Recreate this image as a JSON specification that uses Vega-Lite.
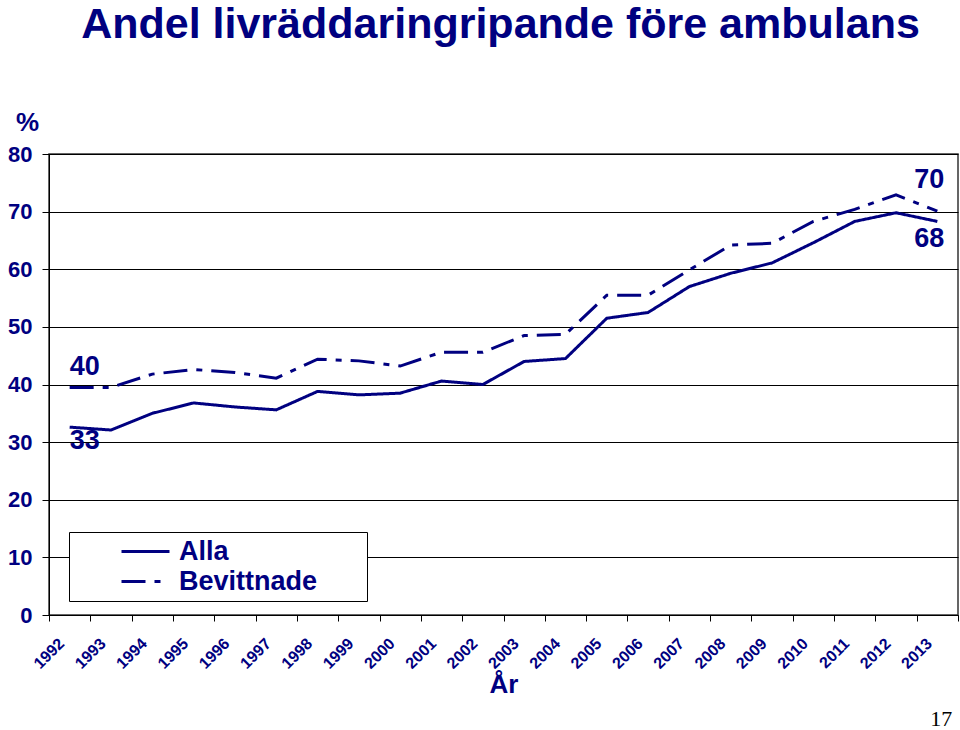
{
  "$schema": "https://vega.github.io/schema/vega-lite/v6.json",
  "width": 909,
  "height": 461,
  "autosize": {"type": "none"},
  "padding": {"left": 49, "top": 154, "right": 2, "bottom": 115},
  "background": "white",
  "title": {
    "text": "Andel livräddaringripande före ambulans",
    "font": "Liberation Sans",
    "fontSize": 43,
    "fontWeight": "bold",
    "color": "#000080",
    "anchor": "middle",
    "dx": -3,
    "offset": 62
  },
  "config": {
    "view": {"stroke": "#333333", "strokeWidth": 1.5},
    "axis": {
      "domainColor": "#000000",
      "tickColor": "#000000",
      "gridColor": "#000000",
      "gridWidth": 1,
      "labelColor": "#000080",
      "labelFont": "Liberation Sans",
      "labelFontWeight": "bold",
      "titleFont": "Liberation Sans",
      "titleFontWeight": "bold",
      "titleColor": "#000080"
    }
  },
  "data": {
    "values": [
      {"year": "1992", "series": "Alla", "value": 32.6, "label": "33"},
      {"year": "1993", "series": "Alla", "value": 32.1},
      {"year": "1994", "series": "Alla", "value": 35.0},
      {"year": "1995", "series": "Alla", "value": 36.8},
      {"year": "1996", "series": "Alla", "value": 36.1},
      {"year": "1997", "series": "Alla", "value": 35.6},
      {"year": "1998", "series": "Alla", "value": 38.8},
      {"year": "1999", "series": "Alla", "value": 38.2},
      {"year": "2000", "series": "Alla", "value": 38.5},
      {"year": "2001", "series": "Alla", "value": 40.6},
      {"year": "2002", "series": "Alla", "value": 40.0},
      {"year": "2003", "series": "Alla", "value": 44.0},
      {"year": "2004", "series": "Alla", "value": 44.5},
      {"year": "2005", "series": "Alla", "value": 51.5},
      {"year": "2006", "series": "Alla", "value": 52.5},
      {"year": "2007", "series": "Alla", "value": 57.0},
      {"year": "2008", "series": "Alla", "value": 59.3},
      {"year": "2009", "series": "Alla", "value": 61.1},
      {"year": "2010", "series": "Alla", "value": 64.6},
      {"year": "2011", "series": "Alla", "value": 68.3},
      {"year": "2012", "series": "Alla", "value": 69.8},
      {"year": "2013", "series": "Alla", "value": 68.3, "label": "68"},
      {"year": "1992", "series": "Bevittnade", "value": 39.5, "label": "40"},
      {"year": "1993", "series": "Bevittnade", "value": 39.5},
      {"year": "1994", "series": "Bevittnade", "value": 41.8},
      {"year": "1995", "series": "Bevittnade", "value": 42.6},
      {"year": "1996", "series": "Bevittnade", "value": 42.1},
      {"year": "1997", "series": "Bevittnade", "value": 41.1},
      {"year": "1998", "series": "Bevittnade", "value": 44.4},
      {"year": "1999", "series": "Bevittnade", "value": 44.1},
      {"year": "2000", "series": "Bevittnade", "value": 43.2},
      {"year": "2001", "series": "Bevittnade", "value": 45.6},
      {"year": "2002", "series": "Bevittnade", "value": 45.6},
      {"year": "2003", "series": "Bevittnade", "value": 48.5},
      {"year": "2004", "series": "Bevittnade", "value": 48.7},
      {"year": "2005", "series": "Bevittnade", "value": 55.5},
      {"year": "2006", "series": "Bevittnade", "value": 55.5},
      {"year": "2007", "series": "Bevittnade", "value": 59.9},
      {"year": "2008", "series": "Bevittnade", "value": 64.2},
      {"year": "2009", "series": "Bevittnade", "value": 64.5},
      {"year": "2010", "series": "Bevittnade", "value": 68.3},
      {"year": "2011", "series": "Bevittnade", "value": 70.4},
      {"year": "2012", "series": "Bevittnade", "value": 72.9},
      {"year": "2013", "series": "Bevittnade", "value": 70.1, "label": "70"}
    ]
  },
  "encoding": {
    "x": {
      "field": "year",
      "type": "ordinal",
      "scale": {"type": "band", "paddingInner": 0, "paddingOuter": 0},
      "axis": {
        "tickBand": "extent",
        "labelAngle": -45,
        "labelAlign": "right",
        "labelBaseline": "top",
        "labelFontSize": 16,
        "labelPadding": 14,
        "labelOffset": -14,
        "tickSize": 6,
        "title": "År",
        "titleFontSize": 26,
        "titlePadding": 0,
        "grid": false
      }
    },
    "y": {
      "field": "value",
      "type": "quantitative",
      "scale": {"domain": [0, 80], "nice": false, "zero": true},
      "axis": {
        "values": [0, 10, 20, 30, 40, 50, 60, 70, 80],
        "grid": true,
        "tickSize": 7,
        "labelFontSize": 22,
        "labelPadding": 10,
        "title": "%",
        "titleAngle": 0,
        "titleFontSize": 26,
        "titleX": -22,
        "titleY": -32,
        "titleAlign": "center",
        "titleBaseline": "middle"
      }
    }
  },
  "layer": [
    {
      "mark": {"type": "line", "strokeWidth": 3, "color": "#000080"},
      "encoding": {
        "strokeDash": {
          "field": "series",
          "type": "nominal",
          "scale": {"domain": ["Alla", "Bevittnade"], "range": [[1, 0], [24, 9, 6, 9]]},
          "legend": {
            "title": "\u00a0",
            "titleOrient": "right",
            "titleFontSize": 1,
            "titlePadding": 44,
            "orient": "none",
            "legendX": 20,
            "legendY": 378,
            "strokeColor": "#000000",
            "fillColor": "white",
            "padding": 6,
            "labelFont": "Liberation Sans",
            "labelFontWeight": "bold",
            "labelFontSize": 27,
            "labelColor": "#000080",
            "labelOffset": 20,
            "labelLimit": 400,
            "symbolType": "M-2,0H2",
            "symbolSize": 576,
            "symbolStrokeWidth": 3,
            "symbolStrokeColor": "#000080",
            "symbolFillColor": "transparent",
            "symbolOffset": 57,
            "rowPadding": 2
          }
        }
      }
    },
    {
      "transform": [{"filter": "datum.year === '1992' && datum.series === 'Bevittnade'"}],
      "mark": {"type": "text", "align": "left", "baseline": "middle", "dy": -20, "font": "Liberation Sans", "fontWeight": "bold", "fontSize": 27, "color": "#000080"},
      "encoding": {"text": {"field": "label"}}
    },
    {
      "transform": [{"filter": "datum.year === '1992' && datum.series === 'Alla'"}],
      "mark": {"type": "text", "align": "left", "baseline": "middle", "dy": 14, "font": "Liberation Sans", "fontWeight": "bold", "fontSize": 27, "color": "#000080"},
      "encoding": {"text": {"field": "label"}}
    },
    {
      "transform": [{"filter": "datum.year === '2013' && datum.series === 'Bevittnade'"}],
      "mark": {"type": "text", "align": "center", "baseline": "middle", "dx": -8, "dy": -31, "font": "Liberation Sans", "fontWeight": "bold", "fontSize": 27, "color": "#000080"},
      "encoding": {"text": {"field": "label"}}
    },
    {
      "transform": [{"filter": "datum.year === '2013' && datum.series === 'Alla'"}],
      "mark": {"type": "text", "align": "center", "baseline": "middle", "dx": -8, "dy": 18, "font": "Liberation Sans", "fontWeight": "bold", "fontSize": 27, "color": "#000080"},
      "encoding": {"text": {"field": "label"}}
    },
    {
      "data": {"values": [{"year": "2013", "pos": -18, "page": "17"}]},
      "mark": {"type": "text", "align": "center", "baseline": "middle", "dx": 4, "font": "Liberation Serif", "fontSize": 22, "color": "#000000"},
      "encoding": {
        "x": {"field": "year", "type": "ordinal"},
        "y": {"field": "pos", "type": "quantitative"},
        "text": {"field": "page"}
      }
    }
  ]
}
